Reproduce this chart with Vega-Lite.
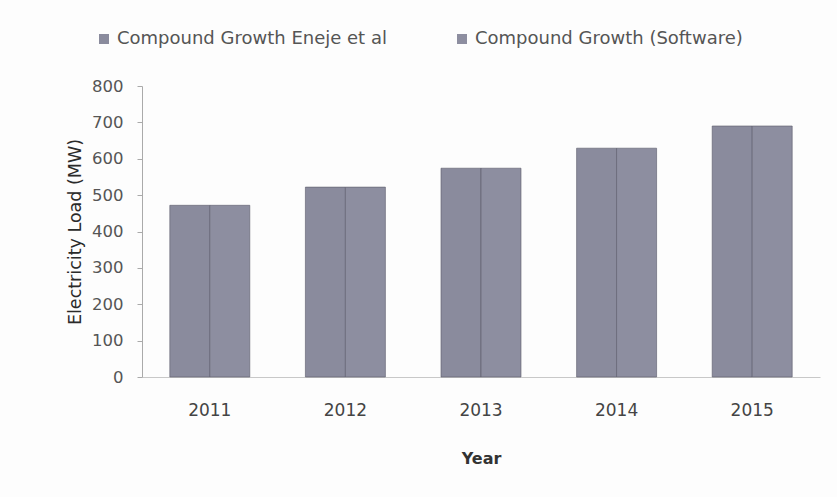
{
  "$schema": "https://vega.github.io/schema/vega-lite/v6.json",
  "width": 678,
  "height": 291,
  "autosize": {"type": "none"},
  "padding": {"left": 142, "top": 86, "right": 17, "bottom": 120},
  "background": "#fdfdfd",
  "data": {
    "values": [
      {"Year": "2011", "Series": "Compound Growth Eneje et al", "Load": 472},
      {"Year": "2011", "Series": "Compound Growth (Software)", "Load": 472},
      {"Year": "2012", "Series": "Compound Growth Eneje et al", "Load": 522},
      {"Year": "2012", "Series": "Compound Growth (Software)", "Load": 522},
      {"Year": "2013", "Series": "Compound Growth Eneje et al", "Load": 574},
      {"Year": "2013", "Series": "Compound Growth (Software)", "Load": 574},
      {"Year": "2014", "Series": "Compound Growth Eneje et al", "Load": 629},
      {"Year": "2014", "Series": "Compound Growth (Software)", "Load": 629},
      {"Year": "2015", "Series": "Compound Growth Eneje et al", "Load": 690},
      {"Year": "2015", "Series": "Compound Growth (Software)", "Load": 690}
    ]
  },
  "mark": {"type": "bar", "stroke": "#5a5a6a", "strokeWidth": 0.6},
  "encoding": {
    "x": {
      "field": "Year", "type": "nominal",
      "scale": {"paddingInner": 0.41, "paddingOuter": 0.205},
      "axis": {
        "title": "Year", "titleFontSize": 16, "titleFont": "DejaVu Sans", "titleFontWeight": "bold",
        "titleColor": "#333", "titlePadding": 32,
        "labelAngle": 0, "labelFontSize": 17, "labelFont": "DejaVu Sans", "labelColor": "#444",
        "labelPadding": 25, "ticks": false, "domainColor": "#c8c8c8"
      }
    },
    "xOffset": {"field": "Series", "type": "nominal", "sort": ["Compound Growth Eneje et al", "Compound Growth (Software)"]},
    "y": {
      "field": "Load", "type": "quantitative",
      "scale": {"domain": [0, 800]},
      "axis": {
        "title": "Electricity Load (MW)", "titleFontSize": 17.5, "titleFont": "DejaVu Sans", "titleFontWeight": "normal",
        "titleColor": "#2a2a2a", "titlePadding": 7,
        "values": [0, 100, 200, 300, 400, 500, 600, 700, 800],
        "labelFontSize": 16.5, "labelFont": "DejaVu Sans", "labelColor": "#555", "labelPadding": 14,
        "tickSize": 5, "tickColor": "#aaa", "domainColor": "#aaa", "grid": false
      }
    },
    "color": {
      "field": "Series", "type": "nominal",
      "sort": ["Compound Growth Eneje et al", "Compound Growth (Software)"],
      "scale": {"range": ["#8a8b9d", "#8d8ea0"]},
      "legend": {
        "title": null, "orient": "none", "direction": "horizontal",
        "legendX": -47, "legendY": -56,
        "symbolType": "square", "symbolSize": 100, "symbolStrokeWidth": 0,
        "labelFontSize": 18, "labelFont": "DejaVu Sans", "labelColor": "#555",
        "columnPadding": 66, "labelLimit": 400
      }
    }
  },
  "config": {"view": {"stroke": null}}
}
